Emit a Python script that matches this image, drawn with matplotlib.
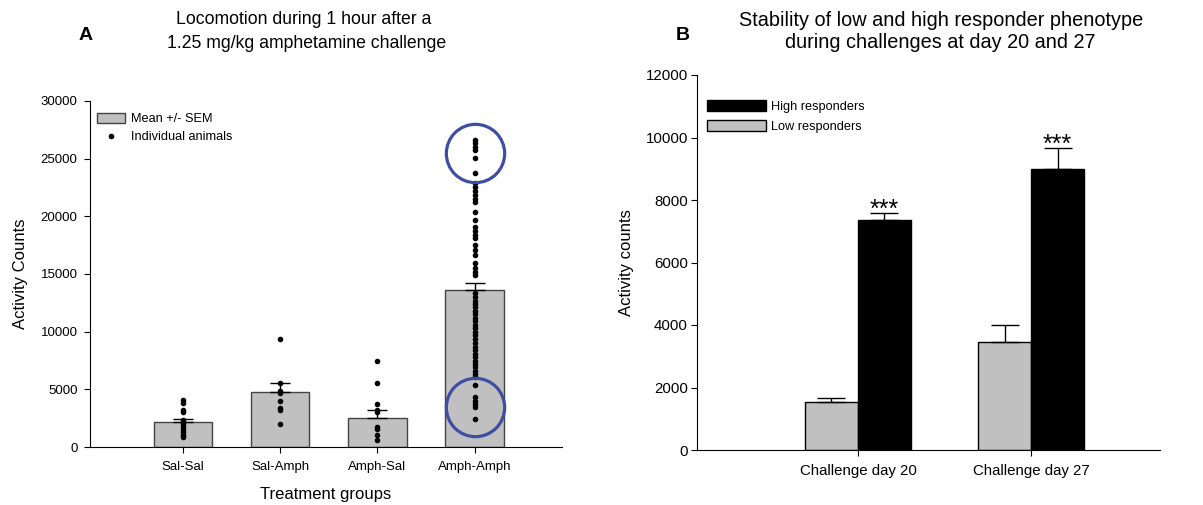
import matplotlib.pyplot as plt
import matplotlib.patches as patches
from matplotlib.lines import Line2D
import numpy as np

plt.rcParams['font.family'] = ['Liberation Sans', 'DejaVu Sans']

# ---- Panel A data ----
groups = ['Sal-Sal', 'Sal-Amph', 'Amph-Sal', 'Amph-Amph']
group_means = [2170, 4770, 2540, 13600]
group_sem = [260, 780, 670, 600]

sal_sal = [4075, 3815, 3210, 3035, 2340, 2080, 1820, 1560, 1300, 1040, 870]
sal_amph = [9365, 5550, 4860, 4680, 3990, 3380, 3210, 1990]
amph_sal = [7460, 5520, 3700, 3210, 3060, 1760, 1530, 1040, 610]
amph_amph = [26620, 26360, 26010, 25750, 25060, 23760,
             22890, 22550, 22200, 21850, 21500, 21240,
             20380, 19680, 19080, 18700, 18400, 18120,
             17520, 17100, 16650, 15950, 15520, 15200, 14910,
             13350, 13000, 12700, 12400, 12100, 11800, 11500, 11200,
             10900, 10600, 10300, 10000, 9700, 9400,
             9000, 8700, 8400, 8100, 7800, 7500, 7200, 6900, 6600, 6300, 6070,
             5380, 4340, 4000, 3700, 3470, 2430]
individuals = [sal_sal, sal_amph, amph_sal, amph_amph]

# circled regions (values on Amph-Amph column)
circle_values = [25450, 3450]

# ---- Panel B data ----
challenges = ['Challenge day 20', 'Challenge day 27']
low_resp = [1530, 3450]
low_sem = [150, 550]
high_resp = [7350, 9000]
high_sem = [220, 650]

grey = '#c0c0c0'

fig = plt.figure(figsize=(12.03, 5.05), dpi=100)

# ================= Panel A =================
axA = fig.add_axes([90/1203, 58/505, 472/1203, 346/505])
x = np.arange(len(groups))
axA.bar(x, group_means, width=0.6, color=grey, edgecolor='#444444', linewidth=1, zorder=1)
axA.errorbar(x, group_means, yerr=[np.zeros(len(x)), group_sem], fmt='none',
             ecolor='black', elinewidth=1, capsize=7, capthick=1, zorder=2)
for i, vals in enumerate(individuals):
    axA.plot(np.full(len(vals), x[i]), vals, 'o', color='black', markersize=3.0, zorder=3)
for v in circle_values:
    axA.plot([x[3]], [v], 'o', markersize=42, markerfacecolor='none',
             markeredgecolor='#3e4fa3', markeredgewidth=2.3, zorder=4)

axA.set_xlim(-0.96, 3.9)
axA.set_ylim(0, 30000)
axA.set_yticks(range(0, 30001, 5000))
axA.set_xticks(x)
axA.set_xticklabels(groups)
axA.tick_params(labelsize=9.5, length=4, direction='out')
axA.tick_params(axis='x', pad=6)
axA.tick_params(axis='y', pad=5)
for s in ['top', 'right']:
    axA.spines[s].set_visible(False)
axA.set_ylabel('Activity Counts', fontsize=12, labelpad=9)
axA.set_xlabel('Treatment groups', fontsize=12, labelpad=10)

legA = [patches.Patch(facecolor=grey, edgecolor='#444444', label='Mean +/- SEM'),
        Line2D([], [], marker='o', color='black', linestyle='none', markersize=3.0,
               label='Individual animals')]
axA.legend(handles=legA, loc='upper left', bbox_to_anchor=(-0.007, 0.995), frameon=False,
           fontsize=9.2, handlelength=2.2, handleheight=0.8, labelspacing=0.45,
           handletextpad=0.45, borderaxespad=0.4)

fig.text(304/1203, 1 - 20/505, 'Locomotion during 1 hour after a',
         ha='center', va='center', fontsize=12.7)
fig.text(307/1203, 1 - 43/505, '1.25 mg/kg amphetamine challenge',
         ha='center', va='center', fontsize=12.7)
fig.text(86/1203, 1 - 35/505, 'A', ha='center', va='center', fontsize=14, fontweight='bold')

# ================= Panel B =================
axB = fig.add_axes([697/1203, 55/505, 463/1203, 375/505])
xb = np.arange(len(challenges))
w = 0.306
axB.bar(xb - w/2, low_resp, width=w, color=grey, edgecolor='black', linewidth=1)
axB.bar(xb + w/2, high_resp, width=w, color='black', edgecolor='black', linewidth=1)
axB.errorbar(xb - w/2, low_resp, yerr=[np.zeros(2), low_sem], fmt='none',
             ecolor='black', elinewidth=1, capsize=10, capthick=1)
axB.errorbar(xb + w/2, high_resp, yerr=[np.zeros(2), high_sem], fmt='none',
             ecolor='black', elinewidth=1, capsize=10, capthick=1)
for i in range(len(xb)):
    axB.text(xb[i] + w/2, high_resp[i] + high_sem[i] + 110, '***', ha='center',
             va='center', fontsize=18)

axB.set_xlim(-0.93, 1.745)
axB.set_ylim(0, 12000)
axB.set_yticks(range(0, 12001, 2000))
axB.set_xticks(xb)
axB.set_xticklabels(challenges)
axB.tick_params(labelsize=10.8, length=4, direction='out')
axB.tick_params(axis='x', pad=6)
axB.tick_params(axis='y', pad=2.5)
for s in ['top', 'right']:
    axB.spines[s].set_visible(False)
axB.set_ylabel('Activity counts', fontsize=12, labelpad=8)

legB = [patches.Patch(facecolor='black', edgecolor='black', label='High responders'),
        patches.Patch(facecolor=grey, edgecolor='black', label='Low responders')]
axB.legend(handles=legB, loc='upper left', bbox_to_anchor=(0.0, 0.96), frameon=False,
           fontsize=9.2, handlelength=4.6, handleheight=0.9, labelspacing=0.55,
           handletextpad=0.4, borderaxespad=0.4)

fig.text(941/1203, 1 - 20/505, 'Stability of low and high responder phenotype',
         ha='center', va='center', fontsize=14.3)
fig.text(940/1203, 1 - 43/505, 'during challenges at day 20 and 27',
         ha='center', va='center', fontsize=14.3)
fig.text(683/1203, 1 - 35/505, 'B', ha='center', va='center', fontsize=14, fontweight='bold')

fig.savefig('out.png', dpi=100)
